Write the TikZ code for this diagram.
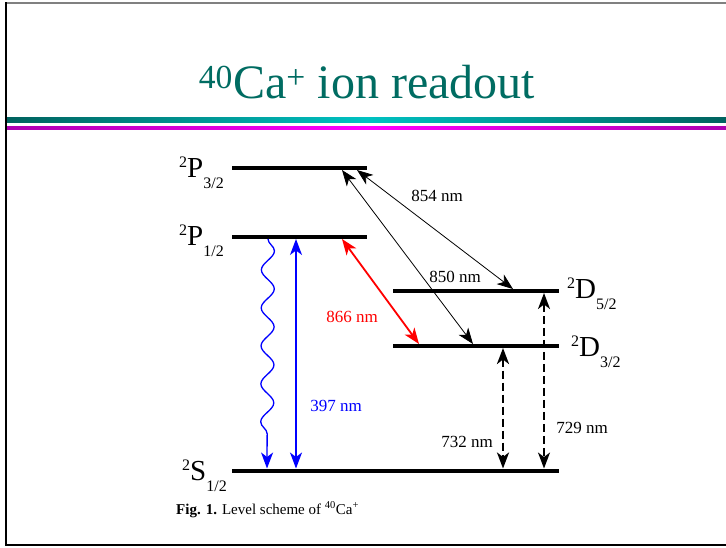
\documentclass[tikz,border=0pt]{standalone}
\usepackage{fontspec}
\setmainfont{Liberation Serif}
\usetikzlibrary{positioning,arrows.meta,decorations.pathmorphing}
\definecolor{titleteal}{RGB}{0,108,98}
\definecolor{tealdark}{RGB}{0,98,94}
\definecolor{tealmid}{RGB}{0,194,194}
\definecolor{magdark}{RGB}{172,0,176}
\definecolor{magmid}{RGB}{255,0,255}
\definecolor{laserblue}{RGB}{0,0,255}
\definecolor{laserred}{RGB}{255,0,0}
\newcommand{\lvlname}[3]{{\fontsize{16}{16}\selectfont\raisebox{10pt}{#1}}#2{\fontsize{16}{16}\selectfont\raisebox{-11pt}{#3}}}

\begin{document}
\begin{tikzpicture}[x=1pt,y=-1pt,
  every node/.style={inner sep=0pt},
  >={Stealth[length=16pt,width=12pt,inset=4.5pt]},
  level/.style={line width=4pt},
  lvltext/.style={font=\fontsize{29}{29}\selectfont},
  nm/.style={font=\fontsize{17}{17}\selectfont},
  thin arrow/.style={<->,line width=0.8pt},
  pump/.style={<->,line width=1.5pt,draw=laserblue},
  repump/.style={<->,line width=1.8pt,draw=laserred},
  clock/.style={<->,dash pattern=on 8pt off 4pt},
  decay/.style={->,line width=1.3pt,draw=laserblue,decorate,
    decoration={snake,amplitude=6.5pt,segment length=38pt,post length=16pt}}
]
\useasboundingbox (0,0) rectangle (726,547);
\fill[white] (0,0) rectangle (726,547);
% slide frame and title
\draw[line width=1.5pt,gray] (728,3) -- (6,3);
\draw[line width=2.6pt] (6,2) -- (6,545) -- (728,545);
\node[font=\fontsize{48}{48}\selectfont,text=titleteal,anchor=base] (title) at (367,98)
  {\textsuperscript{40}Ca\textsuperscript{+} ion readout};
\shade[left color=tealdark,right color=tealdark,middle color=tealmid] (7,117) rectangle (726,122.5);
\shade[left color=magdark,right color=magdark,middle color=magmid] (7,126) rectangle (726,129);

% levels
\coordinate (p3a) at (232,167.5); \coordinate (p3b) at (367,167.5);
\coordinate (p1a) at (232,236.5); \coordinate (p1b) at (367,236.5);
\coordinate (d5a) at (393,291);   \coordinate (d5b) at (559,291);
\coordinate (d3a) at (393,346);   \coordinate (d3b) at (559,346);
\coordinate (sa) at (232,470.5);  \coordinate (sb) at (559,470.5);
\draw[level] (p3a) -- (p3b);
\draw[level] (p1a) -- (p1b);
\draw[level] (d5a) -- (d5b);
\draw[level] (d3a) -- (d3b);
\draw[level] (sa) -- (sb);

\node[lvltext,anchor=base east] (p3lab) at (224,177) {\lvlname{2}{P}{3/2}};
\node[lvltext,anchor=base east] (p1lab) at (224,245) {\lvlname{2}{P}{1/2}};
\node[lvltext,anchor=base west] (d5lab) at (567,298) {\lvlname{2}{D}{5/2}};
\node[lvltext,anchor=base west] (d3lab) at (571,356) {\lvlname{2}{D}{3/2}};
\node[lvltext,anchor=base east] (slab) at (227,480) {\lvlname{2}{S}{1/2}};

% transitions
\coordinate (w1) at (268,239);  \coordinate (w2) at (267,468.5);
\coordinate (b1) at (296,239);  \coordinate (b2) at (296,468.5);
\coordinate (r1) at (342,239);  \coordinate (r2) at (419,344);
\coordinate (k1) at (357,170);  \coordinate (k2) at (513,289);
\coordinate (e1) at (342,170);  \coordinate (e2) at (473,344);
\coordinate (q1) at (503,348);  \coordinate (q2) at (503,468.5);
\coordinate (t1) at (544,293);  \coordinate (t2) at (544,468.5);
\draw[decay] (w1) -- (w2);
\draw[pump] (b1) -- (b2);
\draw[repump] (r1) -- (r2);
\draw[thin arrow] (k1) -- (k2);
\draw[thin arrow] (e1) -- (e2);
\draw[clock,line width=2.6pt] (q1) -- (q2);
\draw[clock,line width=1.8pt] (t1) -- (t2);

\node[nm] (l854) at (437,196) {854 nm};
\node[nm] (l850) at (455,277) {850 nm};
\node[nm,text=laserred] (l866) at (352,317) {866 nm};
\node[nm,text=laserblue] (l397) at (336,406) {397 nm};
\node[nm] (l732) at (467,442) {732 nm};
\node[nm] (l729) at (582,428) {729 nm};

\node[font=\fontsize{15}{15}\selectfont,anchor=base west] (caption) at (176,514)
  {\textbf{Fig. 1.} Level scheme of \textsuperscript{40}Ca\textsuperscript{+}};
\end{tikzpicture}
\end{document}
